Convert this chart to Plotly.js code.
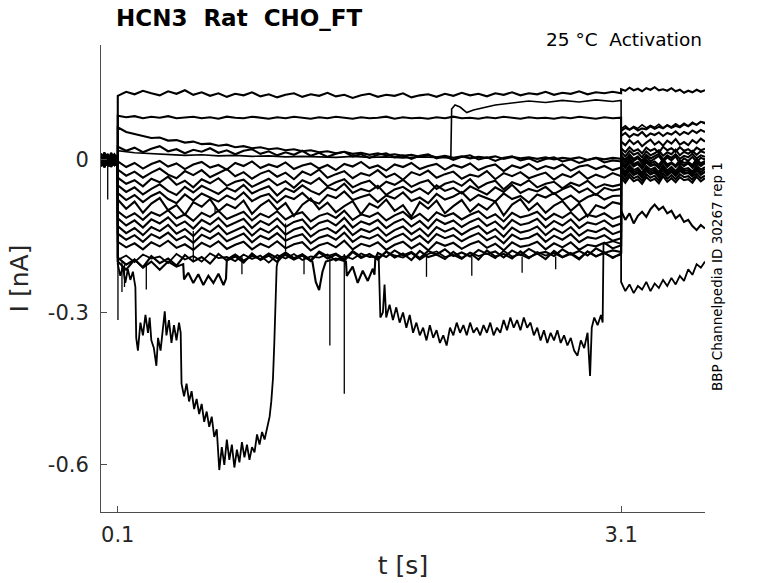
<!DOCTYPE html>
<html>
<head>
<meta charset="utf-8">
<script src="https://cdn.plot.ly/plotly-3.0.1.min.js"></script>
<style>html,body{margin:0;padding:0;background:#fff;}#chart{width:778px;height:583px;}</style>
</head>
<body>
<div id="chart"></div>
<script>
// ---- time bases (s) ----
const tPre  = [0, 0.01, 0.02, 0.03, 0.04, 0.05, 0.06, 0.07, 0.08, 0.09, 0.1];
const tStep = [0.1, 0.15, 0.2, 0.25, 0.3, 0.35, 0.4, 0.45, 0.5, 0.55, 0.6, 0.65, 0.7, 0.75, 0.8, 0.85, 0.9, 0.95,
  1.0, 1.05, 1.1, 1.15, 1.2, 1.25, 1.3, 1.35, 1.4, 1.45, 1.5, 1.55, 1.6, 1.65, 1.7, 1.75, 1.8, 1.85, 1.9, 1.95,
  2.0, 2.05, 2.1, 2.15, 2.2, 2.25, 2.3, 2.35, 2.4, 2.45, 2.5, 2.55, 2.6, 2.65, 2.7, 2.75, 2.8, 2.85, 2.9, 2.95,
  3.0, 3.05, 3.1];
const tTail = [3.1, 3.125, 3.15, 3.175, 3.2, 3.225, 3.25, 3.275, 3.3, 3.325, 3.35, 3.375, 3.4, 3.425, 3.45,
  3.475, 3.5, 3.525, 3.55, 3.575, 3.6];

// ---- band sweeps (nA): pre-pulse (11) | step (61) | tail (21) ----
const sweep01 = [0.006, -0.004, 0.010, -0.008, 0.003, -0.011, 0.007, 0.001, -0.006, 0.009, 0.002,
  0.126, 0.134, 0.129, 0.136, 0.131, 0.127, 0.135, 0.130, 0.137, 0.128,
  0.133, 0.126, 0.131, 0.124, 0.130, 0.127, 0.133, 0.125, 0.129, 0.123,
  0.128, 0.131, 0.124, 0.129, 0.126, 0.132, 0.125, 0.128, 0.122, 0.127,
  0.130, 0.124, 0.128, 0.126, 0.131, 0.123, 0.127, 0.129, 0.124, 0.130,
  0.126, 0.132, 0.127, 0.130, 0.125, 0.131, 0.128, 0.133, 0.127, 0.131,
  0.129, 0.134, 0.128, 0.132, 0.130, 0.135, 0.129, 0.133, 0.131, 0.134, 0.131,
  0.139, 0.136, 0.142, 0.137, 0.140, 0.135, 0.141, 0.138, 0.143, 0.137, 0.139, 0.136, 0.141, 0.135, 0.138, 0.132,
  0.136, 0.133, 0.138, 0.134, 0.137];
const sweep03 = [-0.007, 0.004, -0.002, 0.009, -0.005, 0.002, -0.010, 0.006, -0.003, 0.008, 0.001,
  0.087, 0.084, 0.086, 0.082, 0.085, 0.083, 0.086, 0.082, 0.084, 0.085,
  0.082, 0.084, 0.081, 0.085, 0.083, 0.082, 0.085, 0.083, 0.081, 0.084,
  0.082, 0.085, 0.083, 0.081, 0.084, 0.082, 0.085, 0.083, 0.081, 0.084,
  0.082, 0.083, 0.085, 0.081, 0.084, 0.082, 0.083, 0.081, 0.084, 0.082,
  0.085, 0.082, 0.083, 0.081, 0.084, 0.082, 0.085, 0.083, 0.081, 0.084,
  0.082, 0.083, 0.081, 0.084, 0.082, 0.085, 0.083, 0.081, 0.084, 0.082, 0.083,
  0.047, 0.053, 0.045, 0.051, 0.048, 0.055, 0.046, 0.052, 0.049, 0.054, 0.047, 0.053, 0.050, 0.056, 0.049, 0.055,
  0.051, 0.058, 0.053, 0.059, 0.055];
const sweep04 = [0.011, 0.003, 0.013, 0.005, 0.010, 0.001, 0.012, 0.004, 0.009, 0.002, 0.008,
  0.064, 0.055, 0.051, 0.048, 0.043, 0.044, 0.038, 0.039, 0.034, 0.036,
  0.031, 0.032, 0.028, 0.030, 0.025, 0.027, 0.023, 0.025, 0.021, 0.023,
  0.019, 0.021, 0.017, 0.019, 0.015, 0.017, 0.013, 0.016, 0.012, 0.014,
  0.010, 0.013, 0.009, 0.011, 0.008, 0.010, 0.006, 0.009, 0.005, 0.008,
  0.004, 0.007, 0.003, 0.006, 0.004, 0.007, 0.002, 0.006, 0.003, 0.005,
  0.002, 0.005, 0.001, 0.004, 0.002, 0.005, 0.000, 0.004, 0.001, 0.004, 0.002,
  0.057, 0.063, 0.059, 0.064, 0.058, 0.062, 0.060, 0.066, 0.061, 0.065, 0.062, 0.068, 0.063, 0.067, 0.064, 0.070,
  0.066, 0.072, 0.069, 0.075, 0.073];
const sweep05 = [0.013, 0.005, 0.015, 0.007, 0.012, 0.003, 0.014, 0.008, 0.011, 0.004, 0.010,
  0.026, 0.018, 0.024, 0.015, 0.022, 0.027, 0.017, 0.021, 0.013, 0.020,
  0.016, 0.023, 0.014, 0.019, 0.011, 0.018, 0.021, 0.012, 0.017, 0.009,
  0.015, 0.010, 0.018, 0.008, 0.014, 0.006, 0.012, 0.016, 0.007, 0.011,
  0.004, 0.010, 0.013, 0.005, 0.009, 0.002, 0.008, 0.011, 0.003, 0.007,
  0.000, 0.006, 0.009, 0.001, 0.005, -0.002, 0.004, 0.007, -0.001, 0.003,
  -0.004, 0.002, 0.005, -0.003, 0.001, -0.006, 0.000, 0.004, -0.005, -0.001, -0.003,
  0.036, 0.029, 0.039, 0.031, 0.037, 0.027, 0.034, 0.040, 0.030, 0.036, 0.028, 0.038, 0.032, 0.041, 0.030, 0.035,
  0.029, 0.039, 0.033, 0.042, 0.036];
const sweep06 = [-0.011, -0.002, -0.013, -0.004, -0.009, 0.001, -0.012, -0.005, -0.010, -0.001, -0.008,
  -0.003, -0.014, -0.006, -0.017, -0.008, -0.002, -0.013, -0.007, -0.018, -0.009,
  -0.004, -0.015, -0.010, -0.019, -0.006, -0.012, -0.003, -0.016, -0.009, -0.014,
  -0.005, -0.018, -0.011, -0.007, -0.017, -0.010, -0.020, -0.008, -0.013, -0.004,
  -0.016, -0.011, -0.021, -0.009, -0.014, -0.006, -0.018, -0.012, -0.008, -0.019,
  -0.010, -0.015, -0.007, -0.020, -0.013, -0.009, -0.022, -0.011, -0.016, -0.008,
  -0.019, -0.012, -0.017, -0.009, -0.021, -0.013, -0.010, -0.018, -0.012, -0.020, -0.015,
  0.016, 0.007, 0.018, 0.010, 0.014, 0.005, 0.017, 0.009, 0.013, 0.019, 0.008, 0.015, 0.011, 0.020, 0.009, 0.016,
  0.012, 0.018, 0.010, 0.017, 0.014];
const sweep07 = [0.002, -0.009, 0.004, -0.006, 0.000, -0.011, 0.005, -0.004, 0.001, -0.008, 0.003,
  -0.019, -0.031, -0.023, -0.035, -0.025, -0.017, -0.029, -0.036, -0.022, -0.030,
  -0.020, -0.034, -0.026, -0.018, -0.032, -0.024, -0.037, -0.027, -0.021, -0.033,
  -0.025, -0.038, -0.023, -0.030, -0.019, -0.035, -0.028, -0.022, -0.036, -0.026,
  -0.031, -0.020, -0.034, -0.027, -0.039, -0.024, -0.030, -0.021, -0.035, -0.028,
  -0.023, -0.037, -0.029, -0.033, -0.022, -0.038, -0.026, -0.032, -0.024, -0.036,
  -0.030, -0.025, -0.039, -0.028, -0.034, -0.023, -0.037, -0.029, -0.035, -0.026, -0.032,
  0.005, -0.005, 0.007, -0.002, 0.004, -0.007, 0.006, -0.003, 0.002, 0.008, -0.004, 0.005, -0.001, 0.007, -0.006,
  0.003, -0.002, 0.006, -0.004, 0.004, 0.001];
const sweep08 = [-0.012, -0.004, -0.014, -0.006, -0.011, -0.002, -0.013, -0.007, -0.010, -0.003, -0.009,
  -0.035, -0.047, -0.040, -0.052, -0.037, -0.044, -0.033, -0.049, -0.041, -0.054,
  -0.038, -0.046, -0.036, -0.051, -0.043, -0.039, -0.053, -0.045, -0.037, -0.050,
  -0.042, -0.055, -0.040, -0.047, -0.036, -0.052, -0.044, -0.038, -0.054, -0.046,
  -0.041, -0.056, -0.043, -0.049, -0.039, -0.053, -0.045, -0.040, -0.057, -0.047,
  -0.042, -0.051, -0.038, -0.055, -0.046, -0.041, -0.058, -0.044, -0.050, -0.040,
  -0.054, -0.047, -0.043, -0.056, -0.045, -0.051, -0.041, -0.055, -0.048, -0.052, -0.048,
  -0.005, -0.015, -0.003, -0.012, -0.007, -0.017, -0.004, -0.011, -0.008, -0.016, -0.002, -0.013, -0.006, -0.014,
  -0.004, -0.012, -0.007, -0.015, -0.003, -0.010, -0.006];
const sweep09 = [0.007, -0.002, 0.009, 0.001, 0.006, -0.004, 0.008, 0.000, 0.005, -0.003, 0.004,
  -0.050, -0.063, -0.054, -0.068, -0.057, -0.048, -0.061, -0.069, -0.053, -0.064,
  -0.051, -0.059, -0.067, -0.055, -0.062, -0.049, -0.066, -0.058, -0.052, -0.070,
  -0.056, -0.063, -0.050, -0.061, -0.068, -0.054, -0.060, -0.047, -0.065, -0.057,
  -0.062, -0.051, -0.069, -0.058, -0.053, -0.064, -0.056, -0.067, -0.050, -0.061,
  -0.055, -0.066, -0.052, -0.060, -0.068, -0.054, -0.063, -0.049, -0.065, -0.057,
  -0.062, -0.053, -0.067, -0.058, -0.051, -0.064, -0.056, -0.069, -0.055, -0.060, -0.057,
  -0.013, -0.023, -0.011, -0.020, -0.016, -0.025, -0.012, -0.019, -0.015, -0.024, -0.010, -0.021, -0.014, -0.022,
  -0.012, -0.018, -0.016, -0.023, -0.011, -0.019, -0.014];
const sweep10 = [-0.003, -0.012, -0.001, -0.010, -0.005, -0.013, -0.002, -0.009, -0.006, -0.011, -0.004,
  -0.065, -0.079, -0.069, -0.083, -0.071, -0.063, -0.077, -0.085, -0.068, -0.080,
  -0.066, -0.074, -0.082, -0.070, -0.078, -0.064, -0.081, -0.072, -0.067, -0.084,
  -0.071, -0.077, -0.065, -0.080, -0.086, -0.069, -0.075, -0.062, -0.079, -0.073,
  -0.068, -0.083, -0.070, -0.076, -0.064, -0.081, -0.074, -0.085, -0.067, -0.078,
  -0.072, -0.063, -0.080, -0.069, -0.075, -0.082, -0.066, -0.077, -0.071, -0.084,
  -0.068, -0.074, -0.065, -0.079, -0.070, -0.083, -0.073, -0.067, -0.078, -0.071, -0.070,
  -0.021, -0.031, -0.019, -0.028, -0.024, -0.034, -0.020, -0.027, -0.023, -0.032, -0.018, -0.029, -0.022, -0.030,
  -0.020, -0.026, -0.024, -0.031, -0.019, -0.028, -0.023];
const sweep11 = [0.011, 0.002, 0.013, 0.004, 0.009, -0.001, 0.012, 0.003, 0.010, 0.005, 0.008,
  -0.078, -0.096, -0.082, -0.104, -0.086, -0.075, -0.099, -0.089, -0.108, -0.083,
  -0.092, -0.077, -0.101, -0.087, -0.095, -0.080, -0.106, -0.090, -0.079, -0.098,
  -0.085, -0.110, -0.088, -0.076, -0.097, -0.084, -0.103, -0.091, -0.081, -0.107,
  -0.086, -0.094, -0.078, -0.100, -0.089, -0.112, -0.083, -0.096, -0.080, -0.105,
  -0.091, -0.079, -0.102, -0.087, -0.098, -0.082, -0.109, -0.088, -0.077, -0.099,
  -0.085, -0.104, -0.090, -0.081, -0.100, -0.086, -0.111, -0.089, -0.095, -0.083, -0.087,
  -0.029, -0.039, -0.027, -0.036, -0.032, -0.041, -0.028, -0.035, -0.031, -0.040, -0.026, -0.037, -0.030, -0.038,
  -0.028, -0.034, -0.032, -0.039, -0.027, -0.036, -0.031];
const sweep12 = [-0.008, 0.002, -0.010, -0.001, -0.006, 0.003, -0.009, -0.002, -0.007, 0.001, -0.005,
  -0.101, -0.114, -0.105, -0.118, -0.103, -0.110, -0.099, -0.115, -0.107, -0.120,
  -0.104, -0.112, -0.100, -0.116, -0.109, -0.102, -0.119, -0.106, -0.113, -0.101,
  -0.117, -0.108, -0.103, -0.121, -0.110, -0.105, -0.114, -0.100, -0.118, -0.107,
  -0.112, -0.104, -0.119, -0.109, -0.102, -0.116, -0.106, -0.120, -0.103, -0.111,
  -0.105, -0.117, -0.108, -0.101, -0.115, -0.107, -0.121, -0.104, -0.113, -0.109,
  -0.102, -0.118, -0.106, -0.114, -0.103, -0.119, -0.108, -0.112, -0.105, -0.116, -0.110,
  0.009, 0.000, 0.011, 0.002, 0.007, -0.002, 0.010, 0.003, 0.008, 0.012, 0.001, 0.009, 0.004, 0.011, 0.002, 0.008,
  0.005, 0.012, 0.003, 0.009, 0.006];
const sweep13 = [0.004, -0.006, 0.006, -0.003, 0.002, -0.008, 0.005, -0.002, 0.003, -0.007, 0.001,
  -0.115, -0.129, -0.119, -0.133, -0.117, -0.125, -0.113, -0.130, -0.121, -0.135,
  -0.118, -0.127, -0.114, -0.131, -0.123, -0.116, -0.134, -0.120, -0.128, -0.115,
  -0.132, -0.122, -0.117, -0.136, -0.124, -0.119, -0.129, -0.114, -0.133, -0.121,
  -0.127, -0.118, -0.134, -0.123, -0.116, -0.131, -0.120, -0.135, -0.117, -0.126,
  -0.119, -0.132, -0.122, -0.115, -0.130, -0.121, -0.136, -0.118, -0.128, -0.124,
  -0.116, -0.133, -0.120, -0.129, -0.117, -0.134, -0.123, -0.127, -0.119, -0.131, -0.125,
  -0.001, -0.011, 0.002, -0.008, -0.004, -0.012, 0.000, -0.007, -0.003, -0.010, 0.001, -0.009, -0.005, -0.011,
  -0.001, -0.006, -0.004, -0.010, 0.002, -0.007, -0.002];
const sweep14 = [-0.013, -0.004, -0.015, -0.006, -0.011, -0.002, -0.014, -0.007, -0.010, -0.003, -0.009,
  -0.130, -0.144, -0.134, -0.148, -0.132, -0.140, -0.128, -0.145, -0.136, -0.150,
  -0.133, -0.142, -0.129, -0.146, -0.138, -0.131, -0.149, -0.135, -0.143, -0.130,
  -0.147, -0.137, -0.132, -0.151, -0.139, -0.134, -0.144, -0.129, -0.148, -0.136,
  -0.142, -0.133, -0.149, -0.138, -0.131, -0.146, -0.135, -0.150, -0.132, -0.141,
  -0.134, -0.147, -0.137, -0.130, -0.145, -0.136, -0.151, -0.133, -0.143, -0.139,
  -0.131, -0.148, -0.135, -0.144, -0.132, -0.149, -0.138, -0.142, -0.134, -0.146, -0.140,
  -0.017, -0.027, -0.015, -0.024, -0.020, -0.029, -0.016, -0.023, -0.019, -0.028, -0.014, -0.025, -0.018, -0.026,
  -0.016, -0.022, -0.020, -0.027, -0.015, -0.024, -0.018];
const sweep15 = [0.008, -0.001, 0.010, 0.000, 0.006, -0.003, 0.009, 0.002, 0.007, -0.002, 0.005,
  -0.145, -0.157, -0.148, -0.161, -0.146, -0.154, -0.143, -0.158, -0.150, -0.163,
  -0.147, -0.155, -0.144, -0.160, -0.152, -0.145, -0.162, -0.149, -0.156, -0.144,
  -0.159, -0.151, -0.146, -0.164, -0.153, -0.148, -0.157, -0.143, -0.161, -0.150,
  -0.155, -0.147, -0.162, -0.152, -0.145, -0.159, -0.149, -0.163, -0.146, -0.154,
  -0.148, -0.160, -0.151, -0.144, -0.158, -0.150, -0.164, -0.147, -0.156, -0.153,
  -0.145, -0.161, -0.149, -0.157, -0.146, -0.162, -0.152, -0.155, -0.148, -0.159, -0.154,
  -0.035, -0.045, -0.033, -0.042, -0.038, -0.047, -0.034, -0.041, -0.037, -0.046, -0.032, -0.043, -0.036, -0.044,
  -0.034, -0.040, -0.038, -0.045, -0.033, -0.042, -0.036];
const sweep16 = [-0.002, -0.011, 0.000, -0.009, -0.004, -0.012, -0.001, -0.008, -0.005, -0.010, -0.003,
  -0.161, -0.172, -0.164, -0.176, -0.162, -0.170, -0.159, -0.173, -0.166, -0.177,
  -0.163, -0.171, -0.160, -0.175, -0.167, -0.161, -0.176, -0.165, -0.172, -0.160,
  -0.174, -0.166, -0.162, -0.178, -0.168, -0.163, -0.172, -0.159, -0.176, -0.165,
  -0.170, -0.162, -0.177, -0.167, -0.161, -0.174, -0.164, -0.178, -0.162, -0.169,
  -0.163, -0.175, -0.166, -0.160, -0.173, -0.165, -0.178, -0.162, -0.171, -0.168,
  -0.161, -0.176, -0.164, -0.172, -0.162, -0.177, -0.167, -0.170, -0.163, -0.174, -0.168,
  -0.100, -0.118, -0.105, -0.125, -0.110, -0.102, -0.112, -0.097, -0.088, -0.098, -0.092, -0.105, -0.100, -0.115,
  -0.108, -0.122, -0.118, -0.130, -0.138, -0.128, -0.135];
const sweep17 = [0.006, -0.003, 0.008, -0.005, 0.004, -0.007, 0.007, -0.001, 0.005, -0.004, 0.003,
  -0.192, -0.206, -0.196, -0.211, -0.189, -0.203, -0.194, -0.208, -0.187, -0.200,
  -0.191, -0.204, -0.185, -0.198, -0.190, -0.202, -0.184, -0.197, -0.188, -0.201,
  -0.183, -0.195, -0.187, -0.199, -0.182, -0.194, -0.186, -0.198, -0.181, -0.193,
  -0.185, -0.196, -0.180, -0.192, -0.184, -0.197, -0.179, -0.191, -0.186, -0.195,
  -0.181, -0.193, -0.183, -0.196, -0.178, -0.190, -0.185, -0.194, -0.180, -0.192,
  -0.184, -0.195, -0.179, -0.191, -0.183, -0.194, -0.180, -0.190, -0.182, -0.193, -0.184,
  -0.007, -0.016, -0.004, -0.013, -0.008, -0.017, -0.005, -0.012, -0.009, -0.015, -0.003, -0.014, -0.006, -0.013,
  -0.008, -0.011, -0.005, -0.015, -0.007, -0.012, -0.006];
const bandSweeps = [sweep01, sweep03, sweep04, sweep05, sweep06, sweep07, sweep08, sweep09, sweep10,
                    sweep11, sweep12, sweep13, sweep14, sweep15, sweep16, sweep17];

// ---- sweep that jumps up near 2.09 s: step times | pre (11) + step + tail (21) ----
const tJumpStep = [0.1, 0.2, 0.3, 0.4, 0.5, 0.6, 0.7, 0.8, 0.9, 1.0, 1.1, 1.2, 1.3, 1.4, 1.5, 1.6, 1.7, 1.8, 1.9, 2.0,
  2.085, 2.09, 2.11, 2.14, 2.18, 2.22, 2.28, 2.35, 2.45, 2.55, 2.65, 2.75, 2.85, 2.95, 3.05, 3.1];
const iJump = [-0.003, 0.006, -0.007, 0.004, -0.001, 0.008, -0.005, 0.003, -0.008, 0.005, 0.000,
  0.018, 0.014, 0.012, 0.011, 0.009, 0.010, 0.008, 0.009, 0.007, 0.008, 0.006, 0.007, 0.006, 0.005, 0.007, 0.005,
  0.006, 0.004, 0.006, 0.005,
  0.004, 0.100, 0.108, 0.104, 0.093, 0.098, 0.103, 0.108, 0.112, 0.116, 0.113, 0.117, 0.114, 0.118, 0.115, 0.117,
  0.061, 0.067, 0.060, 0.066, 0.062, 0.069, 0.063, 0.068, 0.064, 0.070, 0.063, 0.069, 0.065, 0.071, 0.066, 0.072,
  0.067, 0.074, 0.069, 0.075, 0.071];

// ---- large inward-current sweep (dip 0.2-1.05 s) ----
const tDipAStep = [0.1, 0.115, 0.13, 0.145, 0.16, 0.175, 0.19, 0.205, 0.21, 0.22,
  0.235, 0.25, 0.265, 0.28, 0.29, 0.30, 0.315, 0.33, 0.34, 0.355,
  0.37, 0.38, 0.39, 0.405, 0.42, 0.435, 0.45, 0.465, 0.475, 0.48,
  0.495, 0.51, 0.525, 0.54, 0.555, 0.57, 0.585, 0.60, 0.615, 0.63,
  0.645, 0.66, 0.675, 0.69, 0.705, 0.72, 0.735, 0.75, 0.765, 0.78,
  0.795, 0.81, 0.825, 0.84, 0.855, 0.87, 0.885, 0.90, 0.915, 0.93,
  0.945, 0.96, 0.975, 0.99, 1.005, 1.015, 1.025, 1.033, 1.04, 1.047, 1.06,
  1.1, 1.15, 1.2, 1.25, 1.3, 1.35, 1.4, 1.45, 1.5, 1.55, 1.6, 1.65, 1.7, 1.75, 1.8, 1.85, 1.9, 1.95, 2.0, 2.05,
  2.1, 2.15, 2.2, 2.25, 2.3, 2.35, 2.4, 2.45, 2.5, 2.55, 2.6, 2.65, 2.7, 2.75, 2.8, 2.85, 2.9, 2.95, 3.0, 3.05, 3.1];
const iDipA = [0.003, -0.007, 0.005, -0.004, 0.009, -0.002, 0.006, -0.009, 0.002, -0.005, 0.004,
  -0.205, -0.228, -0.21, -0.242, -0.215, -0.236, -0.22, -0.25, -0.35, -0.375,
  -0.32, -0.345, -0.305, -0.34, -0.31, -0.355, -0.37, -0.405, -0.35, -0.375,
  -0.33, -0.298, -0.345, -0.315, -0.36, -0.325, -0.355, -0.32, -0.34, -0.44,
  -0.465, -0.44, -0.475, -0.455, -0.49, -0.47, -0.5, -0.48, -0.515, -0.495,
  -0.525, -0.505, -0.545, -0.53, -0.61, -0.565, -0.60, -0.55, -0.59, -0.56,
  -0.605, -0.57, -0.595, -0.555, -0.585, -0.56, -0.59, -0.565, -0.575, -0.54,
  -0.56, -0.535, -0.55, -0.525, -0.505, -0.475, -0.43, -0.36, -0.29, -0.21, -0.19,
  -0.182, -0.193, -0.185, -0.197, -0.180, -0.189, -0.184, -0.195, -0.179, -0.190,
  -0.186, -0.194, -0.181, -0.188, -0.192, -0.183, -0.196, -0.185, -0.180, -0.191,
  -0.187, -0.195, -0.182, -0.189, -0.184, -0.193, -0.179, -0.190, -0.186, -0.194,
  -0.181, -0.188, -0.183, -0.192, -0.185, -0.196, -0.180, -0.189, -0.184, -0.191, -0.186,
  -0.023, -0.033, -0.021, -0.030, -0.026, -0.035, -0.022, -0.029, -0.025, -0.034, -0.020, -0.031, -0.024, -0.032,
  -0.022, -0.028, -0.026, -0.033, -0.021, -0.030, -0.024];

// ---- second inward-current sweep (dip 1.66-2.99 s) ----
const tDipBStep = [0.1, 0.15, 0.2, 0.25, 0.3, 0.35, 0.4, 0.45, 0.5, 0.55, 0.6, 0.65, 0.7, 0.75, 0.8, 0.85,
  0.9, 0.95, 1.0, 1.05, 1.1, 1.15, 1.2, 1.25, 1.3, 1.35, 1.4, 1.45, 1.5, 1.55, 1.6,
  1.655, 1.665, 1.68, 1.69,
  1.70, 1.72, 1.74, 1.76, 1.78, 1.80, 1.82, 1.84, 1.86, 1.88, 1.90, 1.92, 1.94, 1.96, 1.98, 2.00, 2.02, 2.04,
  2.06, 2.08, 2.10, 2.12, 2.14, 2.16, 2.18, 2.20, 2.22, 2.24, 2.26, 2.28, 2.30, 2.32, 2.34, 2.36, 2.38, 2.40,
  2.42, 2.44, 2.46, 2.48, 2.50, 2.52, 2.54, 2.56, 2.58, 2.60, 2.62, 2.64, 2.66, 2.68, 2.70, 2.72, 2.74, 2.76,
  2.78, 2.80, 2.82, 2.84, 2.86, 2.88, 2.90,
  2.915, 2.925, 2.94, 2.96, 2.98, 2.99, 2.995, 3.05, 3.1];
const iDipB = [-0.006, 0.004, -0.009, 0.002, -0.004, 0.007, -0.008, 0.001, -0.006, 0.005, -0.002,
  -0.197, -0.188, -0.201, -0.186, -0.194, -0.19, -0.203, -0.185, -0.196, -0.189,
  -0.2, -0.184, -0.193, -0.191, -0.199, -0.186, -0.195, -0.188, -0.202, -0.187,
  -0.194, -0.185, -0.197, -0.19, -0.192, -0.186, -0.198, -0.189, -0.195, -0.184, -0.191,
  -0.19, -0.31, -0.30, -0.245,
  -0.31, -0.285, -0.315, -0.29, -0.32, -0.30, -0.33, -0.305, -0.34, -0.32, -0.345, -0.33, -0.355, -0.325, -0.35,
  -0.335, -0.36, -0.345, -0.365, -0.33, -0.345, -0.32, -0.34, -0.325, -0.345, -0.32, -0.34, -0.33, -0.345, -0.325,
  -0.34, -0.32, -0.345, -0.33, -0.34, -0.315, -0.335, -0.31, -0.33, -0.315, -0.335, -0.31, -0.33, -0.32, -0.345,
  -0.33, -0.355, -0.335, -0.36, -0.34, -0.355, -0.335, -0.36, -0.345, -0.365, -0.35, -0.375, -0.385, -0.355, -0.37,
  -0.34,
  -0.425, -0.33, -0.31, -0.325, -0.305, -0.32, -0.165, -0.16, -0.165,
  -0.24, -0.258, -0.245, -0.262, -0.248, -0.255, -0.24, -0.258, -0.243, -0.252, -0.236, -0.248, -0.232, -0.245,
  -0.228, -0.238, -0.215, -0.226, -0.205, -0.212, -0.2];

// ---- sweep with short inward episodes ----
const tEpisStep = [0.1, 0.15, 0.2, 0.25, 0.3, 0.35, 0.4, 0.45, 0.49, 0.495,
  0.52, 0.55, 0.58, 0.61, 0.64, 0.67, 0.70, 0.73, 0.745, 0.75,
  0.8, 0.85, 0.9, 0.95, 1.0, 1.05, 1.1, 1.15, 1.2, 1.26,
  1.28, 1.30, 1.32, 1.34, 1.4, 1.46, 1.465, 1.5, 1.53, 1.56,
  1.59, 1.62, 1.63, 1.635,
  1.65, 1.7, 1.75, 1.8, 1.85, 1.9, 1.95, 2.0, 2.05, 2.1, 2.15, 2.2, 2.25, 2.3, 2.35, 2.4, 2.45, 2.5, 2.55, 2.6,
  2.65, 2.7, 2.75, 2.8, 2.85, 2.9, 2.95, 3.0, 3.05, 3.1];
const iEpis = [0.009, 0.0, 0.011, 0.002, 0.008, -0.002, 0.010, 0.003, 0.007, 0.001, 0.006,
  -0.2, -0.216, -0.196, -0.212, -0.2, -0.216, -0.2, -0.21, -0.205, -0.235,
  -0.222, -0.242, -0.225, -0.246, -0.228, -0.242, -0.224, -0.246, -0.234, -0.196,
  -0.186, -0.198, -0.189, -0.195, -0.184, -0.193, -0.187, -0.196, -0.188, -0.2,
  -0.24, -0.256, -0.22, -0.2, -0.194, -0.2, -0.228, -0.21, -0.242, -0.218,
  -0.238, -0.214, -0.226, -0.194,
  -0.183, -0.191, -0.178, -0.188, -0.181, -0.193, -0.179, -0.186, -0.176, -0.189, -0.182, -0.190, -0.177, -0.185,
  -0.180, -0.192, -0.178, -0.187, -0.175, -0.184, -0.181, -0.189, -0.176, -0.186, -0.179, -0.188, -0.174, -0.183,
  -0.178, -0.181,
  0.023, 0.015, 0.025, 0.017, 0.021, 0.013, 0.024, 0.018, 0.022, 0.014, 0.026, 0.019, 0.023, 0.016, 0.025, 0.018,
  0.021, 0.015, 0.024, 0.019, 0.022];

// ---- brief spikes (time, start level, peak level) ----
const spikeT    = [0.04, 0.101, 0.125, 0.14, 0.27, 0.55, 0.68, 0.84, 1.1, 1.21, 1.364, 1.45, 1.94, 2.21, 2.51, 2.71];
const spikeFrom = [-0.005, -0.2, -0.2, -0.205, -0.205, -0.14, -0.09, -0.19, -0.125, -0.19, -0.19, -0.185, -0.19, -0.19, -0.19, -0.19];
const spikeTo   = [-0.078, -0.315, -0.26, -0.25, -0.255, -0.2, -0.105, -0.225, -0.18, -0.225, -0.365, -0.46, -0.23, -0.228, -0.222, -0.215];

// ---- axis ticks ----
const xTickVals = [0.1, 3.1];
const xTickText = ['0.1', '3.1'];
const yTickVals = [-0.6, -0.3, 0];
const yTickText = ['-0.6', '-0.3', '0'];

const LINE = {color: '#000000', width: 2.1};
const tBand = tPre.concat(tStep, tTail);
const traces = [];
function addSweep(x, y, w) {
  traces.push({type: 'scatter', mode: 'lines', x: x, y: y, line: {color: '#000000', width: w || LINE.width},
               hoverinfo: 'skip', showlegend: false});
}
bandSweeps.forEach(function (s) { addSweep(tBand, s); });
addSweep(tPre.concat(tJumpStep, tTail), iJump, 1.6);
addSweep(tPre.concat(tDipAStep, tTail), iDipA, 1.8);
addSweep(tPre.concat(tDipBStep, tTail), iDipB, 1.8);
addSweep(tPre.concat(tEpisStep, tTail), iEpis);
const sx = [], sy = [];
spikeT.forEach(function (t, i) { sx.push(t, t, null); sy.push(spikeFrom[i], spikeTo[i], null); });
traces.push({type: 'scatter', mode: 'lines', x: sx, y: sy, line: {color: '#000000', width: 1.3},
             hoverinfo: 'skip', showlegend: false, connectgaps: false});

const axisColor = '#4d4d4d';
const tickFont = {family: 'DejaVu Sans', size: 21, color: '#262626'};
const layout = {
  width: 778, height: 583,
  margin: {l: 101, r: 73, t: 45, b: 71, pad: 0},
  paper_bgcolor: '#ffffff', plot_bgcolor: '#ffffff',
  font: {family: 'DejaVu Sans', color: '#262626'},
  xaxis: {
    range: [0, 3.6], showgrid: false, zeroline: false,
    showline: true, linecolor: axisColor, linewidth: 1,
    ticks: 'inside', ticklen: 6, tickcolor: axisColor, tickwidth: 1, ticklabelstandoff: 4,
    tickmode: 'array', tickvals: xTickVals, ticktext: xTickText, tickfont: tickFont,
    title: {text: 't [s]', font: {family: 'DejaVu Sans', size: 25, color: '#262626'}, standoff: 10}
  },
  yaxis: {
    range: [-0.6925, 0.226], showgrid: false, zeroline: false,
    showline: true, linecolor: axisColor, linewidth: 1,
    ticks: 'inside', ticklen: 6, tickcolor: axisColor, tickwidth: 1, ticklabelstandoff: 7,
    tickmode: 'array', tickvals: yTickVals, ticktext: yTickText, tickfont: tickFont,
    title: {text: 'I [nA]', font: {family: 'DejaVu Sans', size: 25, color: '#262626'}, standoff: 12}
  },
  annotations: [
    {text: '<b>HCN3\u00a0\u00a0Rat\u00a0\u00a0CHO_FT</b>', xref: 'paper', yref: 'paper', x: 0.021, y: 1.058,
     xanchor: 'left', yanchor: 'middle', showarrow: false, font: {family: 'DejaVu Sans', size: 23, color: '#000000'}},
    {text: '25 °C\u00a0\u00a0Activation', xref: 'paper', yref: 'paper', x: 0.998, y: 1.011,
     xanchor: 'right', yanchor: 'middle', showarrow: false, font: {family: 'DejaVu Sans', size: 18.5, color: '#000000'}},
    {text: 'BBP Channelpedia ID 30267 rep 1', xref: 'paper', yref: 'paper', x: 1.0199, y: 0.503,
     xanchor: 'center', yanchor: 'middle', textangle: -90, showarrow: false,
     font: {family: 'DejaVu Sans', size: 13.5, color: '#000000'}}
  ]
};
Plotly.newPlot('chart', traces, layout, {displayModeBar: false, staticPlot: true});
</script>
</body>
</html>
